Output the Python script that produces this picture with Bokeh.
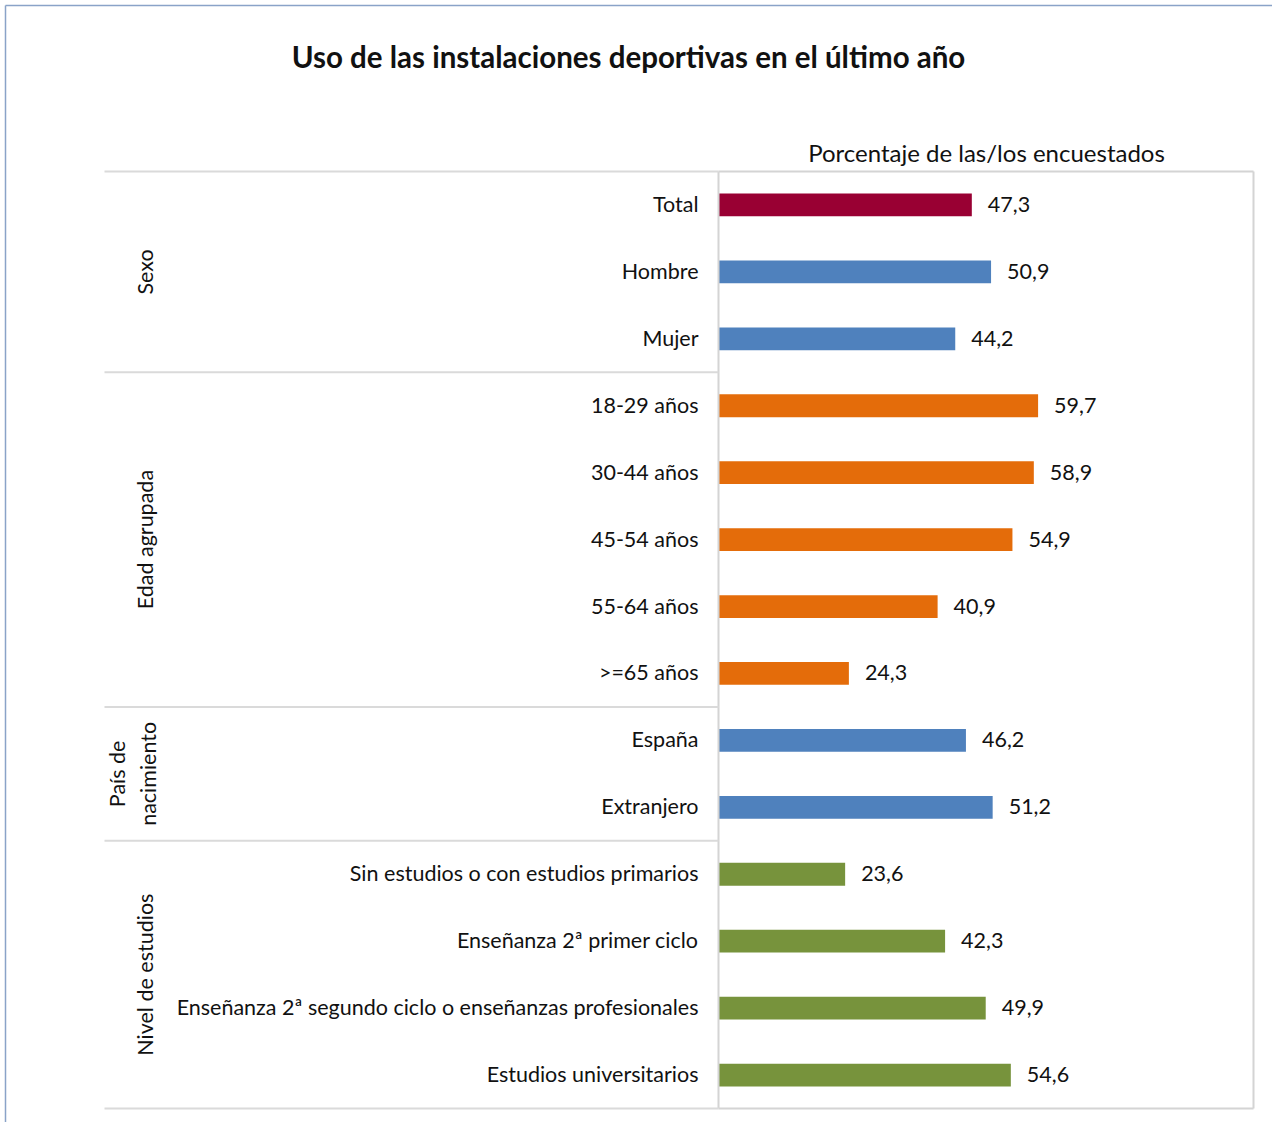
from math import pi
from bokeh.plotting import figure
from bokeh.models import Range1d, ColumnDataSource
from bokeh.core.properties import value
from bokeh.embed import file_html
from bokeh.resources import INLINE

# ---- data ----
categories = ["Total", "Hombre", "Mujer",
              "18-29 años", "30-44 años", "45-54 años", "55-64 años", ">=65 años",
              "España", "Extranjero",
              "Sin estudios o con estudios primarios", "Enseñanza 2ª primer ciclo",
              "Enseñanza 2ª segundo ciclo o enseñanzas profesionales", "Estudios universitarios"]
values = [47.3, 50.9, 44.2, 59.7, 58.9, 54.9, 40.9, 24.3, 46.2, 51.2, 23.6, 42.3, 49.9, 54.6]
group_names = ["Sexo", "Edad agrupada", "País de\nnacimiento", "Nivel de estudios"]
group_sizes = [3, 5, 2, 4]
group_colors = ["#4F81BD", "#E46C0A", "#4F81BD", "#77933C"]
total_color = "#990033"
title_text = "Uso de las instalaciones deportivas en el último año"
subtitle_text = "Porcentaje de las/los encuestados"
x_max = 100

# ---- layout geometry (picture pixels) ----
W, H = 1272, 1122
OFF = 0
plot_left, plot_right = 718.5, 1253
plot_top, plot_bottom = 171, 1108
n = len(categories)
pxu = (plot_right - plot_left) / x_max
rh = (plot_bottom - plot_top) / n

def ix(px):
    return (px - plot_left) / pxu

def iy(py):
    return (py - plot_top) / rh - 0.5

FONT = "Lato"
LBL = "21.5px"

p = figure(width=W, height=H, output_backend="svg", toolbar_location=None,
           x_range=Range1d(ix(OFF), ix(OFF + W)),
           y_range=Range1d(iy(OFF + H), iy(OFF)),
           min_border=0, outline_line_color=None)
p.axis.visible = False
p.grid.visible = False
p.background_fill_color = "white"
p.border_fill_color = "white"

# colors per row
colors = []
for gi, sz in enumerate(group_sizes):
    colors += [group_colors[gi]] * sz
colors[0] = total_color

rows = list(range(n))
src = ColumnDataSource(dict(y=rows, v=values, c=colors, cat=categories,
                            lab=[f"{v:.1f}".replace(".", ",") for v in values]))

# bars
p.hbar(y="y", left=0, right="v", height=0.34, fill_color="c", line_color=None, source=src)

# value labels
p.text(x="v", y="y", text="lab", source=src, x_offset=16, y_offset=-0.5,
       text_font=value(FONT), text_font_size=LBL, text_color="#111111",
       text_align="left", text_baseline="middle")

# category labels
p.text(x=ix(698), y="y", text="cat", source=src, y_offset=-1,
       text_font=value(FONT), text_font_size=LBL, text_color="#111111",
       text_align="right", text_baseline="middle")

# plot frame
frame_color = "#D4D4D4"
fx0, fx1 = ix(718), ix(1253)
fy0, fy1 = -0.5, n - 0.5
p.segment(x0=[fx0, fx0, fx0, fx1], y0=[fy0, fy1, fy0, fy0],
          x1=[fx1, fx1, fx0, fx1], y1=[fy0, fy1, fy1, fy1],
          line_color=frame_color, line_width=2)

# group separators and labels
bounds = [0]
for sz in group_sizes:
    bounds.append(bounds[-1] + sz)
sep_y = [b - 0.5 for b in bounds]
p.segment(x0=[ix(104)] * len(sep_y), x1=[fx0] * len(sep_y), y0=sep_y, y1=sep_y,
          line_color="#DADADA", line_width=2)

gx = [ix(132) if "\n" in g else ix(144) for g in group_names]
gy = [(bounds[i] + bounds[i + 1] - 1) / 2 for i in range(len(group_names))]
p.text(x=gx, y=gy, text=group_names, angle=pi / 2,
       text_font=value(FONT), text_font_size=LBL, text_color="#111111",
       text_align="center", text_baseline="middle", text_line_height=1.2)

# title & subtitle
p.text(x=[ix(628)], y=[iy(56)], text=[title_text],
       text_font=value(FONT), text_font_size="29.5px", text_font_style="bold",
       text_color="#111111", text_align="center", text_baseline="middle")
p.text(x=[ix(986)], y=[iy(152)], text=[subtitle_text],
       text_font=value(FONT), text_font_size="24px", text_color="#111111",
       text_align="center", text_baseline="middle")

# outer border (top and left edges)
bc = "#8AA3C8"
p.segment(x0=[ix(5), ix(5)], y0=[iy(5), iy(5)],
          x1=[ix(OFF + W), ix(5)], y1=[iy(5), iy(OFF + H)],
          line_color=bc, line_width=1.5)

open("out.html", "w").write(file_html(p, INLINE))
